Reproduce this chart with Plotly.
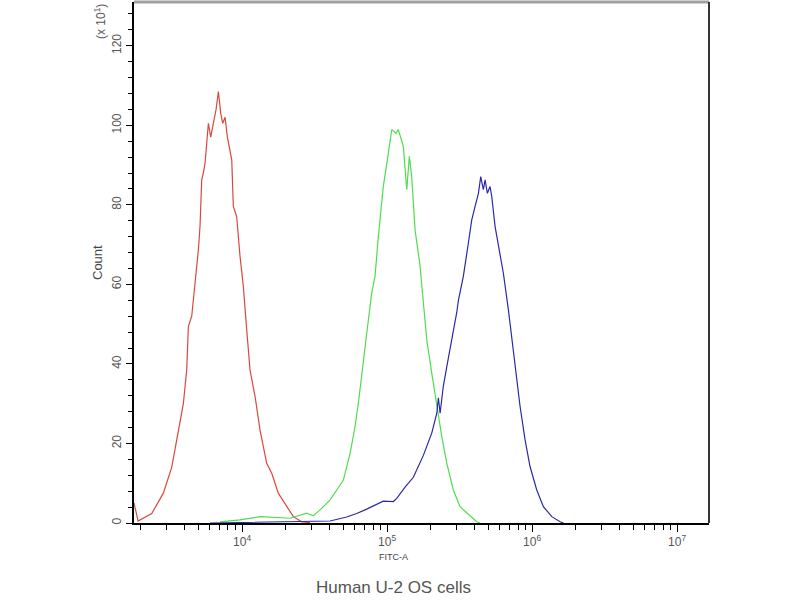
import plotly.graph_objects as go

# ---- data (FITC-A value, Count in units of 10^1) ----
red_x = [1800, 1920, 2385, 2582, 2866, 3273, 3638, 3938, 4155, 4266, 4498, 4742, 5000,
         5129, 5272, 5408, 5559, 5861, 6081, 6339, 6622, 6871, 7129, 7362, 7638, 7925,
         8265, 8492, 8710, 9187, 9687, 10209, 10770, 11350, 12300, 13300, 14790, 16030,
         17780, 20320, 22590, 25820, 29440]
red_y = [5, 0.5, 2.4, 4.5, 7.5, 14, 22.6, 30, 38.5, 49.4, 52, 59.5, 68.7,
         74.5, 86.3, 88, 90.5, 100.5, 97, 100.5, 104, 108.5, 103, 100.5, 102, 97,
         93, 91.3, 79.6, 77, 67, 59.5, 48.6, 38.5, 31.8, 23.4, 15, 12.5,
         7.5, 4.1, 1.6, 0.3, 0.1]

green_x = [7047, 9687, 13300, 21430, 27920, 30900, 34510, 40450, 44980, 50000, 55590,
           60140, 63390, 66960, 72440, 78340, 82600, 87100, 94200, 102100, 107700,
           115300, 119600, 124000, 129500, 136700, 142500, 147900, 156000, 169000, 178000,
           187900, 203300, 220300, 238400, 258200, 286400, 318400, 335700, 415500, 437500]
green_y = [0.3, 0.8, 1.6, 1.2, 2.5, 1.8, 3.3, 5.8, 8.3, 10.8, 17.5,
           24.2, 30.1, 37.7, 47.7, 57.8, 62, 72, 84.6, 93, 98.9,
           98, 98.9, 97, 94.7, 83.8, 92.2, 87.1, 73.7, 64.5, 54.4,
           46, 37.7, 29.3, 21.7, 15, 8.3, 4.1, 3.3, 0.3, 0]

blue_x = [6000, 13300, 25100, 40450, 52700, 61800, 72400, 94200, 110500, 116600, 133100,
          151800, 178000, 203300, 220300, 225900, 232200, 244500, 264800, 286400, 302600,
          310500, 335700, 363600, 383700, 404600, 426600, 442600, 461300, 474200, 491700,
          512900, 527200, 555900, 601200, 633900, 686600, 743000, 783600, 826500, 894900,
          967800, 1077000, 1197000, 1368000, 1560000, 1650000]
blue_y = [0, 0.2, 0.3, 0.5, 1.5, 2.4, 3.5, 5.5, 5.4, 6.2, 9,
          11.5, 17, 22.6, 27.6, 31.5, 27.6, 34.5, 41.5, 47.7, 53,
          56, 62, 70.4, 76.2, 79.6, 82.9, 87.1, 83.8, 86.3, 82.9,
          84.6, 82.1, 74.5, 67, 62.8, 53.6, 43.5, 36.8, 29.3, 20.9,
          14.2, 8.3, 4.1, 1.6, 0.3, 0]

y_ticks = [0, 20, 40, 60, 80, 100, 120]
x_ticks = [1e4, 1e5, 1e6, 1e7]
x_tick_text = ["10<sup>4</sup>", "10<sup>5</sup>", "10<sup>6</sup>", "10<sup>7</sup>"]

fig = go.Figure()
fig.add_trace(go.Scatter(x=red_x, y=red_y, mode="lines",
                         line=dict(color="#d8493c", width=1.2), showlegend=False))
fig.add_trace(go.Scatter(x=green_x, y=green_y, mode="lines",
                         line=dict(color="#4fdc4f", width=1.2), showlegend=False))
fig.add_trace(go.Scatter(x=blue_x, y=blue_y, mode="lines",
                         line=dict(color="#2a2aa8", width=1.2), showlegend=False))

fig.update_layout(
    width=800, height=600,
    margin=dict(l=134, r=91, t=2, b=77),
    paper_bgcolor="white", plot_bgcolor="white",
    font=dict(family="Liberation Sans, Arial, sans-serif", color="#444"),
    xaxis=dict(type="log", range=[3.255, 7.22], showgrid=False, zeroline=False,
               showline=True, linecolor="black", linewidth=1.5,
               ticks="outside", ticklen=7, tickcolor="black",
               tickvals=x_ticks, ticktext=x_tick_text,
               tickfont=dict(size=12, color="#555"),
               minor=dict(ticks="outside", ticklen=5, tickcolor="black", dtick="D1")),
    yaxis=dict(range=[0, 131], showgrid=False, zeroline=False,
               showline=True, linecolor="black", linewidth=1.5,
               ticks="outside", ticklen=6, tickcolor="black",
               tickvals=y_ticks, tickangle=-90,
               tickfont=dict(size=12, color="#555"),
               minor=dict(ticks="outside", ticklen=4, tickcolor="black", dtick=4)),
    shapes=[
        dict(type="line", xref="paper", yref="paper", x0=0, x1=1, y0=1, y1=1,
             line=dict(color="#a0a0a0", width=3)),
        dict(type="line", xref="paper", yref="paper", x0=1, x1=1, y0=0, y1=1,
             line=dict(color="#333", width=2)),
    ],
    annotations=[
        dict(text="(x 10<sup>1</sup>)", xref="paper", yref="paper",
             x=(100 - 134) / 575, y=(523 - 22) / 521, textangle=-90,
             xanchor="center", yanchor="middle",
             showarrow=False, font=dict(size=12, color="#555")),
        dict(text="Count", xref="paper", yref="paper",
             x=(97 - 134) / 575, y=(523 - 263) / 521, textangle=-90,
             xanchor="center", yanchor="middle",
             showarrow=False, font=dict(size=13, color="#444")),
        dict(text="FITC-A", xref="paper", yref="paper",
             x=(393 - 134) / 575, y=(523 - 557) / 521,
             xanchor="center", yanchor="middle",
             showarrow=False, font=dict(size=9, color="#444")),
        dict(text="Human U-2 OS cells", xref="paper", yref="paper",
             x=(393 - 134) / 575, y=(523 - 587) / 521,
             xanchor="center", yanchor="middle",
             showarrow=False, font=dict(size=17, color="#555")),
    ],
)

fig.write_html("out.html", config={"displayModeBar": False})

# remove the default page margin so the figure sits at the window's top-left corner
with open("out.html", "r", encoding="utf-8") as f:
    html = f.read()
html = html.replace("<head>", "<head><style>body{margin:0;}</style>", 1)
with open("out.html", "w", encoding="utf-8") as f:
    f.write(html)
